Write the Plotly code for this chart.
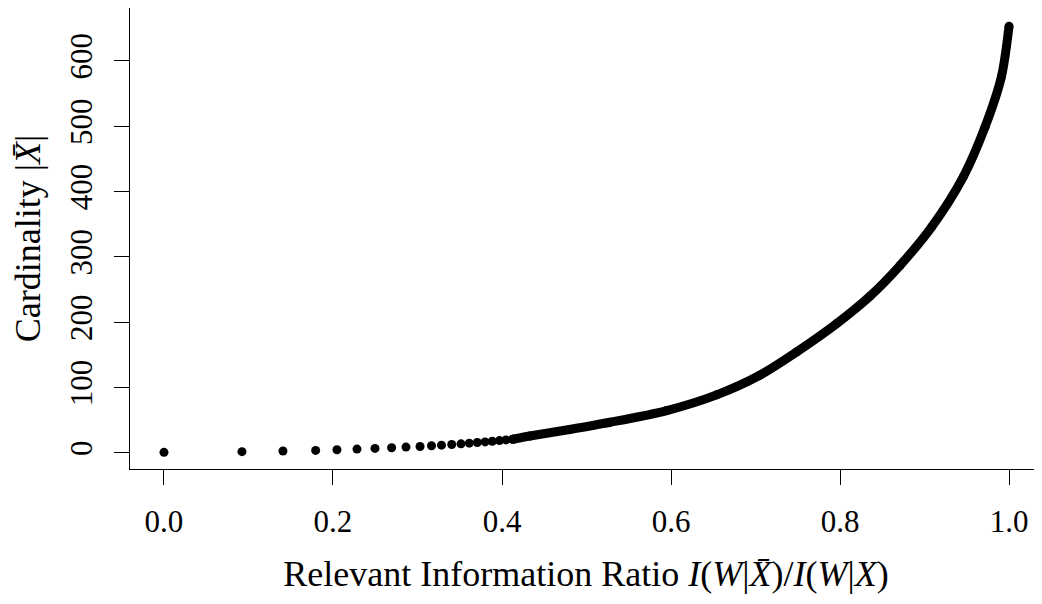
import plotly.graph_objects as go

# Discrete points (cardinality 1..21)
disc_ratio = [0.0, 0.0923, 0.1408, 0.1795, 0.2047, 0.2284, 0.2497, 0.2694, 0.2864,
              0.3030, 0.3166, 0.3284, 0.3405, 0.3515, 0.3613, 0.3708, 0.3800,
              0.3885, 0.3970, 0.4047, 0.4127]
disc_card = [1, 2, 3, 4, 5, 6, 7, 8, 9, 10, 11, 12, 13, 14, 15, 16, 17, 18, 19, 20, 21]

# Dense part of the curve (points overlap into a band), read along its centre
dense_ratio = [0.4127, 0.433, 0.48, 0.528, 0.595, 0.654, 0.705, 0.749, 0.796,
               0.8355, 0.871, 0.9085, 0.946, 0.9716, 0.991, 1.0]
dense_card = [21, 26, 36, 47, 65, 89, 119, 155, 198, 240, 287, 346, 423, 499, 576, 653]

x_ticks = [0.0, 0.2, 0.4, 0.6, 0.8, 1.0]
x_tick_text = ["0.0", "0.2", "0.4", "0.6", "0.8", "1.0"]
y_ticks = [0, 100, 200, 300, 400, 500, 600]
y_tick_text = ["0", "100", "200", "300", "400", "500", "600"]

FONT = "Liberation Serif"

fig = go.Figure()
fig.add_trace(go.Scatter(
    x=dense_ratio, y=dense_card, mode="lines+markers",
    line=dict(color="black", width=9, shape="spline", smoothing=0.8),
    marker=dict(color="black", size=9),
    hoverinfo="x+y", showlegend=False))
fig.add_trace(go.Scatter(
    x=disc_ratio, y=disc_card, mode="markers",
    marker=dict(color="black", size=9),
    hoverinfo="x+y", showlegend=False))

fig.update_layout(
    width=1034, height=596,
    margin=dict(l=122, r=0, t=0, b=135),
    paper_bgcolor="white", plot_bgcolor="white",
    font=dict(family=FONT, size=31, color="black"),
    xaxis=dict(
        range=[-0.0402, 1.039], tickmode="array", tickvals=x_ticks, ticktext=x_tick_text,
        showgrid=False, zeroline=False, showline=True, linecolor="black", linewidth=1,
        mirror=True, ticks="outside", ticklen=15, tickcolor="black",
        ticklabelstandoff=10, automargin=False,
        title=dict(text="Relevant Information Ratio <i>I</i>(<i>W</i>|<i>X̄</i>)/<i>I</i>(<i>W</i>|<i>X</i>)",
                   standoff=22, font=dict(size=36)),
    ),
    yaxis=dict(
        range=[-24.5, 681], tickmode="array", tickvals=y_ticks, ticktext=y_tick_text,
        showgrid=False, zeroline=False, showline=True, linecolor="black", linewidth=1,
        mirror=False, ticks="outside", ticklen=15, tickcolor="black", tickangle=-90,
        ticklabelstandoff=10, automargin=False,
        title=dict(text="Cardinality |<i>X̄</i>|", standoff=18, font=dict(size=36)),
    ),
)

fig.write_html("out.html")
